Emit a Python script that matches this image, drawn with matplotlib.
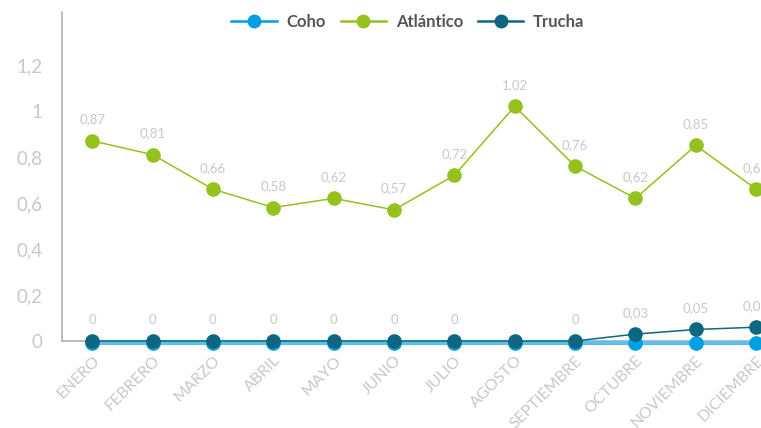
import matplotlib
matplotlib.use("Agg")
import matplotlib.pyplot as plt
from matplotlib.lines import Line2D
import matplotlib.transforms as mtransforms

months = ["ENERO", "FEBRERO", "MARZO", "ABRIL", "MAYO", "JUNIO", "JULIO",
          "AGOSTO", "SEPTIEMBRE", "OCTUBRE", "NOVIEMBRE", "DICIEMBRE"]
coho = [0, 0, 0, 0, 0, 0, 0, 0, 0, 0, 0, 0]
atlantico = [0.87, 0.81, 0.66, 0.58, 0.62, 0.57, 0.72, 1.02, 0.76, 0.62, 0.85, 0.66]
trucha = [0, 0, 0, 0, 0, 0, 0, 0, 0, 0.03, 0.05, 0.06]
yticks = [0, 0.2, 0.4, 0.6, 0.8, 1, 1.2]
ytick_labels = ["0", "0,2", "0,4", "0,6", "0,8", "1", "1,2"]

plt.rcParams['font.family'] = ['Lato', 'DejaVu Sans']

C_COHO = "#009fe3"
C_COHO_LINE = "#5cc0ec"
C_ATL = "#95c11f"
C_TRU = "#0e6680"
GRAY = "#c8c8c8"

fig = plt.figure(figsize=(7.61, 4.28), dpi=100)
ax = fig.add_axes([62/761, (428-341)/428, 1 - 62/761, (341-12)/428])

x = list(range(len(months)))
shift = ax.transData + mtransforms.ScaledTranslation(0, -1.5/100, fig.dpi_scale_trans)
ax.plot(x, coho, color=C_COHO_LINE, lw=3, marker='o', ms=9.5,
        mfc=C_COHO, mec=C_COHO, clip_on=False, zorder=3, transform=shift)
ax.plot(x, atlantico, color=C_ATL, lw=1.1, marker='o', ms=9.5,
        mfc=C_ATL, mec=C_ATL, clip_on=False, zorder=4)
ax.plot(x, trucha, color=C_TRU, lw=1.1, marker='o', ms=9.5,
        mfc=C_TRU, mec=C_TRU, clip_on=False, zorder=5)

def fmt(v):
    s = f"{v:.2f}".rstrip('0').rstrip('.') if v != 0 else "0"
    return s.replace('.', ',')

for i, v in enumerate(atlantico):
    ax.annotate(fmt(v), (i, v), xytext=(0, 11), textcoords='offset points',
                ha='center', va='bottom', color=GRAY, fontsize=9.5,
                annotation_clip=False)
for i, v in enumerate(trucha):
    if months[i] == "AGOSTO":
        continue
    ax.annotate(fmt(v), (i, v), xytext=(0, 11), textcoords='offset points',
                ha='center', va='bottom', color=GRAY, fontsize=9.5,
                annotation_clip=False)

ax.set_xlim(-0.5, 11.08)
ax.set_ylim(0, 1.43)
ax.set_yticks(yticks)
ax.set_yticklabels(ytick_labels, color=GRAY, fontsize=13.5)
ax.set_xticks(x)
ax.set_xticklabels(months, rotation=45, ha='right', rotation_mode='anchor',
                   color=GRAY, fontsize=11.5)
ax.tick_params(axis='both', length=0)
ax.tick_params(axis='y', pad=14)
ax.tick_params(axis='x', pad=9)
for s in ['top', 'right']:
    ax.spines[s].set_visible(False)
ax.spines['left'].set_color("#b0b0b0")
ax.spines['bottom'].set_color("#b0b0b0")
ax.spines['left'].set_linewidth(1.2)
ax.spines['bottom'].set_linewidth(1.2)

handles = [
    Line2D([0], [0], color=C_COHO, lw=1.8, marker='o', ms=9),
    Line2D([0], [0], color=C_ATL, lw=1.8, marker='o', ms=9),
    Line2D([0], [0], color=C_TRU, lw=1.8, marker='o', ms=9),
]
leg = fig.legend(handles, ["Coho", "Atlántico", "Trucha"], loc='center',
                 bbox_to_anchor=(408/761, 1 - 22/428), ncol=3, frameon=False,
                 handlelength=2.7, columnspacing=0.9, handletextpad=0.6,
                 prop={'weight': 'bold', 'size': 12})
for t in leg.get_texts():
    t.set_color("#555555")

fig.savefig("out.png", dpi=100)
